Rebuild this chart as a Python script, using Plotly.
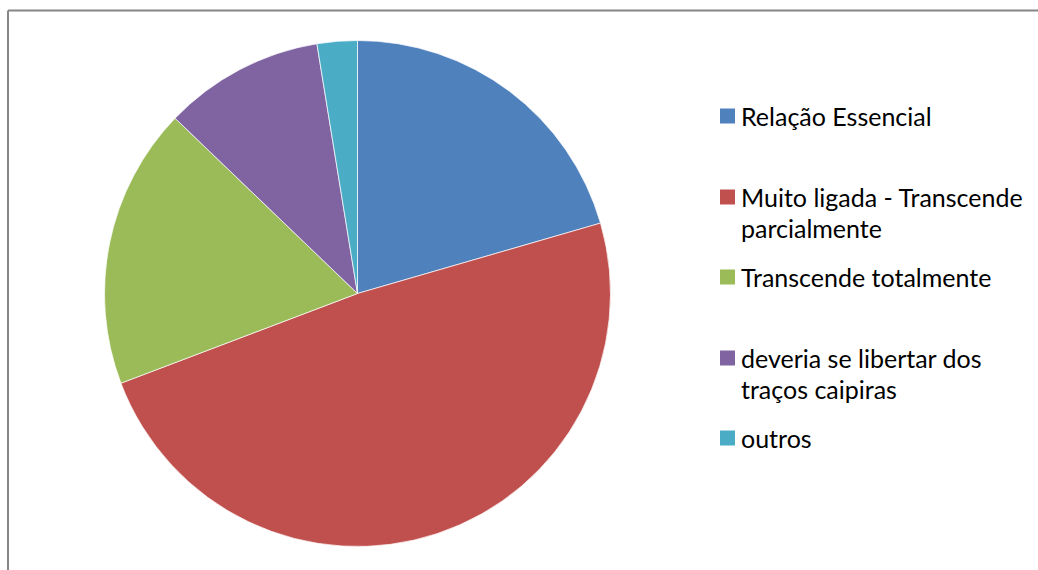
import plotly.graph_objects as go

# Survey answers and their counts
labels = [
    "Relação Essencial",
    "Muito ligada - Transcende parcialmente",
    "Transcende totalmente",
    "deveria se libertar dos traços caipiras",
    "outros",
]
counts = [8, 19, 7, 4, 1]
colors = ["#4F81BD", "#C0504D", "#9BBB59", "#8064A2", "#4BACC6"]

# Legend text wrapped onto lines as drawn beside the pie
legend_lines = [
    ["Relação Essencial"],
    ["Muito ligada - Transcende", "parcialmente"],
    ["Transcende totalmente"],
    ["deveria se libertar dos", "traços caipiras"],
    ["outros"],
]

W, H = 1038, 570
cx, cy, r = 357.5, 293.5, 253

fig = go.Figure(
    go.Pie(
        labels=labels,
        values=counts,
        sort=False,
        direction="clockwise",
        rotation=0,
        marker=dict(colors=colors, line=dict(color="rgba(255,255,255,0.7)", width=1)),
        textinfo="none",
        hoverinfo="label+value+percent",
        showlegend=False,
        domain=dict(
            x=[(cx - r) / W, (cx + r) / W],
            y=[1 - (cy + r) / H, 1 - (cy - r) / H],
        ),
    )
)

# Legend rows: square centre y (px) for each entry, first text line aligned to it
row_y = [116, 197, 277, 358, 438]
line_gap = 31
sq = 15
font = dict(family="Lato, 'Open Sans', sans-serif", size=25, color="#000000")

shapes = []
annotations = []
for i, (lines, y0) in enumerate(zip(legend_lines, row_y)):
    shapes.append(dict(
        type="rect", xref="paper", yref="paper",
        x0=720 / W, x1=(720 + sq) / W,
        y0=1 - (y0 + sq / 2) / H, y1=1 - (y0 - sq / 2) / H,
        fillcolor=colors[i], line=dict(width=0),
    ))
    for j, txt in enumerate(lines):
        annotations.append(dict(
            x=739 / W, y=1 - (y0 + j * line_gap) / H,
            xref="paper", yref="paper", xanchor="left", yanchor="middle",
            text=txt, showarrow=False, font=font,
        ))

# Chart-area frame (top and left edges visible)
shapes.append(dict(type="line", xref="paper", yref="paper",
                   x0=8 / W, x1=1.0, y0=1 - 10.5 / H, y1=1 - 10.5 / H,
                   line=dict(color="#868686", width=2)))
shapes.append(dict(type="line", xref="paper", yref="paper",
                   x0=8 / W, x1=8 / W, y0=0, y1=1 - 10.5 / H,
                   line=dict(color="#868686", width=2)))

fig.update_layout(
    width=W, height=H,
    margin=dict(l=0, r=0, t=0, b=0),
    paper_bgcolor="white",
    plot_bgcolor="white",
    shapes=shapes,
    annotations=annotations,
)

fig.write_html("out.html")
